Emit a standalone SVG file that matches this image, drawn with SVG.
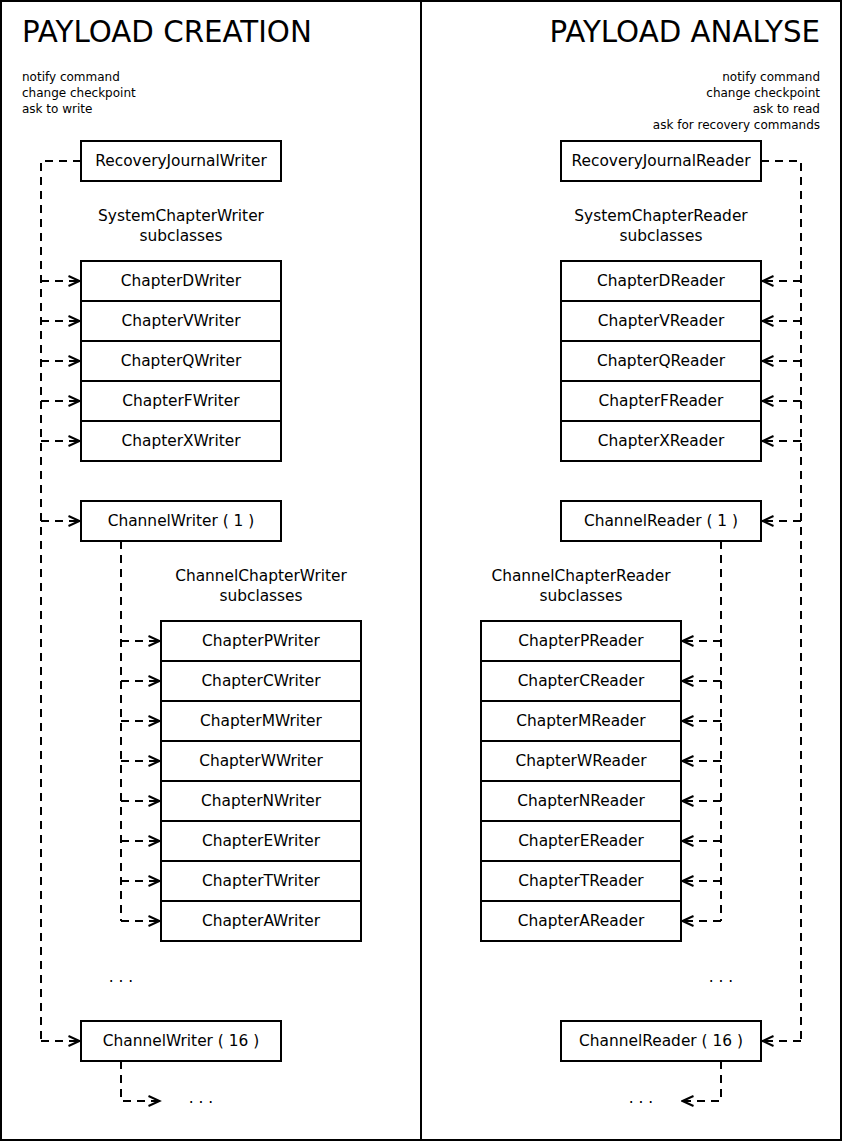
<svg xmlns="http://www.w3.org/2000/svg" width="842" height="1141" viewBox="0 0 842 1141">
<style>
.frame{fill:#fff;stroke:#000;stroke-width:2}
.box{fill:#fff;stroke:#000;stroke-width:2}
.lbl{font-family:"DejaVu Sans",sans-serif;font-size:15.4px;fill:#000;text-anchor:middle}
.title{font-family:"DejaVu Sans",sans-serif;font-size:29.3px;fill:#000}
.note{font-family:"DejaVu Sans",sans-serif;font-size:12px;fill:#000}
.dash{fill:none;stroke:#000;stroke-width:2;stroke-dasharray:8,6}
.arr{fill:none;stroke:#000;stroke-width:2;stroke-dasharray:8,6}
</style>
<defs>
<marker id="ah" viewBox="0 0 14 12" refX="12.5" refY="6" markerWidth="14" markerHeight="12" markerUnits="userSpaceOnUse" orient="auto">
<path d="M1,1 L12,6 L1,11" fill="none" stroke="#000" stroke-width="2"/>
</marker>
</defs>
<rect width="842" height="1141" fill="#fff"/>
<g id="panel-creation">
<rect class="frame" x="1" y="1" width="420" height="1139"/>
<text class="title" x="22" y="42">PAYLOAD CREATION</text>
<text class="note" x="22" y="81">notify command</text>
<text class="note" x="22" y="97">change checkpoint</text>
<text class="note" x="22" y="113">ask to write</text>
</g>
<g id="panel-analyse">
<rect class="frame" x="421" y="1" width="420" height="1139"/>
<text class="title" x="820" y="42" text-anchor="end">PAYLOAD ANALYSE</text>
<text class="note" x="820" y="81" text-anchor="end">notify command</text>
<text class="note" x="820" y="97" text-anchor="end">change checkpoint</text>
<text class="note" x="820" y="113" text-anchor="end">ask to read</text>
<text class="note" x="820" y="129" text-anchor="end">ask for recovery commands</text>
</g>
<g id="connectors">
<path class="dash" d="M81,161 H41 V1041"/>
<path class="arr" d="M41,281 H80" marker-end="url(#ah)"/>
<path class="arr" d="M41,321 H80" marker-end="url(#ah)"/>
<path class="arr" d="M41,361 H80" marker-end="url(#ah)"/>
<path class="arr" d="M41,401 H80" marker-end="url(#ah)"/>
<path class="arr" d="M41,441 H80" marker-end="url(#ah)"/>
<path class="arr" d="M41,521 H80" marker-end="url(#ah)"/>
<path class="arr" d="M41,1041 H80" marker-end="url(#ah)"/>
<path class="dash" d="M121,541 V921"/>
<path class="arr" d="M121,641 H160" marker-end="url(#ah)"/>
<path class="arr" d="M121,681 H160" marker-end="url(#ah)"/>
<path class="arr" d="M121,721 H160" marker-end="url(#ah)"/>
<path class="arr" d="M121,761 H160" marker-end="url(#ah)"/>
<path class="arr" d="M121,801 H160" marker-end="url(#ah)"/>
<path class="arr" d="M121,841 H160" marker-end="url(#ah)"/>
<path class="arr" d="M121,881 H160" marker-end="url(#ah)"/>
<path class="arr" d="M121,921 H160" marker-end="url(#ah)"/>
<path class="arr" d="M121,1061 V1101 H160" marker-end="url(#ah)"/>
<path class="dash" d="M761,161 H801 V1041"/>
<path class="arr" d="M801,281 H762" marker-end="url(#ah)"/>
<path class="arr" d="M801,321 H762" marker-end="url(#ah)"/>
<path class="arr" d="M801,361 H762" marker-end="url(#ah)"/>
<path class="arr" d="M801,401 H762" marker-end="url(#ah)"/>
<path class="arr" d="M801,441 H762" marker-end="url(#ah)"/>
<path class="arr" d="M801,521 H762" marker-end="url(#ah)"/>
<path class="arr" d="M801,1041 H762" marker-end="url(#ah)"/>
<path class="dash" d="M721,541 V921"/>
<path class="arr" d="M721,641 H682" marker-end="url(#ah)"/>
<path class="arr" d="M721,681 H682" marker-end="url(#ah)"/>
<path class="arr" d="M721,721 H682" marker-end="url(#ah)"/>
<path class="arr" d="M721,761 H682" marker-end="url(#ah)"/>
<path class="arr" d="M721,801 H682" marker-end="url(#ah)"/>
<path class="arr" d="M721,841 H682" marker-end="url(#ah)"/>
<path class="arr" d="M721,881 H682" marker-end="url(#ah)"/>
<path class="arr" d="M721,921 H682" marker-end="url(#ah)"/>
<path class="arr" d="M721,1061 V1101 H682" marker-end="url(#ah)"/>
</g>
<g id="RecoveryJournalWriter"><rect class="box" x="81" y="141" width="200" height="40"/><text class="lbl" x="181" y="166">RecoveryJournalWriter</text></g>
<g id="SystemChapterWriter-label"><text class="lbl" x="181" y="221">SystemChapterWriter</text><text class="lbl" x="181" y="241">subclasses</text></g>
<g id="ChapterDWriter"><rect class="box" x="81" y="261" width="200" height="40"/><text class="lbl" x="181" y="286">ChapterDWriter</text></g>
<g id="ChapterVWriter"><rect class="box" x="81" y="301" width="200" height="40"/><text class="lbl" x="181" y="326">ChapterVWriter</text></g>
<g id="ChapterQWriter"><rect class="box" x="81" y="341" width="200" height="40"/><text class="lbl" x="181" y="366">ChapterQWriter</text></g>
<g id="ChapterFWriter"><rect class="box" x="81" y="381" width="200" height="40"/><text class="lbl" x="181" y="406">ChapterFWriter</text></g>
<g id="ChapterXWriter"><rect class="box" x="81" y="421" width="200" height="40"/><text class="lbl" x="181" y="446">ChapterXWriter</text></g>
<g id="ChannelWriter1"><rect class="box" x="81" y="501" width="200" height="40"/><text class="lbl" x="181" y="526">ChannelWriter ( 1 )</text></g>
<g id="ChannelChapterWriter-label"><text class="lbl" x="261" y="581">ChannelChapterWriter</text><text class="lbl" x="261" y="601">subclasses</text></g>
<g id="ChapterPWriter"><rect class="box" x="161" y="621" width="200" height="40"/><text class="lbl" x="261" y="646">ChapterPWriter</text></g>
<g id="ChapterCWriter"><rect class="box" x="161" y="661" width="200" height="40"/><text class="lbl" x="261" y="686">ChapterCWriter</text></g>
<g id="ChapterMWriter"><rect class="box" x="161" y="701" width="200" height="40"/><text class="lbl" x="261" y="726">ChapterMWriter</text></g>
<g id="ChapterWWriter"><rect class="box" x="161" y="741" width="200" height="40"/><text class="lbl" x="261" y="766">ChapterWWriter</text></g>
<g id="ChapterNWriter"><rect class="box" x="161" y="781" width="200" height="40"/><text class="lbl" x="261" y="806">ChapterNWriter</text></g>
<g id="ChapterEWriter"><rect class="box" x="161" y="821" width="200" height="40"/><text class="lbl" x="261" y="846">ChapterEWriter</text></g>
<g id="ChapterTWriter"><rect class="box" x="161" y="861" width="200" height="40"/><text class="lbl" x="261" y="886">ChapterTWriter</text></g>
<g id="ChapterAWriter"><rect class="box" x="161" y="901" width="200" height="40"/><text class="lbl" x="261" y="926">ChapterAWriter</text></g>
<g id="ellipsis-left-1"><text class="lbl" x="121" y="982">. . .</text></g>
<g id="ChannelWriter16"><rect class="box" x="81" y="1021" width="200" height="40"/><text class="lbl" x="181" y="1046">ChannelWriter ( 16 )</text></g>
<g id="ellipsis-left-2"><text class="lbl" x="201" y="1103">. . .</text></g>
<g id="RecoveryJournalReader"><rect class="box" x="561" y="141" width="200" height="40"/><text class="lbl" x="661" y="166">RecoveryJournalReader</text></g>
<g id="SystemChapterReader-label"><text class="lbl" x="661" y="221">SystemChapterReader</text><text class="lbl" x="661" y="241">subclasses</text></g>
<g id="ChapterDReader"><rect class="box" x="561" y="261" width="200" height="40"/><text class="lbl" x="661" y="286">ChapterDReader</text></g>
<g id="ChapterVReader"><rect class="box" x="561" y="301" width="200" height="40"/><text class="lbl" x="661" y="326">ChapterVReader</text></g>
<g id="ChapterQReader"><rect class="box" x="561" y="341" width="200" height="40"/><text class="lbl" x="661" y="366">ChapterQReader</text></g>
<g id="ChapterFReader"><rect class="box" x="561" y="381" width="200" height="40"/><text class="lbl" x="661" y="406">ChapterFReader</text></g>
<g id="ChapterXReader"><rect class="box" x="561" y="421" width="200" height="40"/><text class="lbl" x="661" y="446">ChapterXReader</text></g>
<g id="ChannelReader1"><rect class="box" x="561" y="501" width="200" height="40"/><text class="lbl" x="661" y="526">ChannelReader ( 1 )</text></g>
<g id="ChannelChapterReader-label"><text class="lbl" x="581" y="581">ChannelChapterReader</text><text class="lbl" x="581" y="601">subclasses</text></g>
<g id="ChapterPReader"><rect class="box" x="481" y="621" width="200" height="40"/><text class="lbl" x="581" y="646">ChapterPReader</text></g>
<g id="ChapterCReader"><rect class="box" x="481" y="661" width="200" height="40"/><text class="lbl" x="581" y="686">ChapterCReader</text></g>
<g id="ChapterMReader"><rect class="box" x="481" y="701" width="200" height="40"/><text class="lbl" x="581" y="726">ChapterMReader</text></g>
<g id="ChapterWReader"><rect class="box" x="481" y="741" width="200" height="40"/><text class="lbl" x="581" y="766">ChapterWReader</text></g>
<g id="ChapterNReader"><rect class="box" x="481" y="781" width="200" height="40"/><text class="lbl" x="581" y="806">ChapterNReader</text></g>
<g id="ChapterEReader"><rect class="box" x="481" y="821" width="200" height="40"/><text class="lbl" x="581" y="846">ChapterEReader</text></g>
<g id="ChapterTReader"><rect class="box" x="481" y="861" width="200" height="40"/><text class="lbl" x="581" y="886">ChapterTReader</text></g>
<g id="ChapterAReader"><rect class="box" x="481" y="901" width="200" height="40"/><text class="lbl" x="581" y="926">ChapterAReader</text></g>
<g id="ellipsis-right-1"><text class="lbl" x="721" y="982">. . .</text></g>
<g id="ChannelReader16"><rect class="box" x="561" y="1021" width="200" height="40"/><text class="lbl" x="661" y="1046">ChannelReader ( 16 )</text></g>
<g id="ellipsis-right-2"><text class="lbl" x="641" y="1103">. . .</text></g>
</svg>
